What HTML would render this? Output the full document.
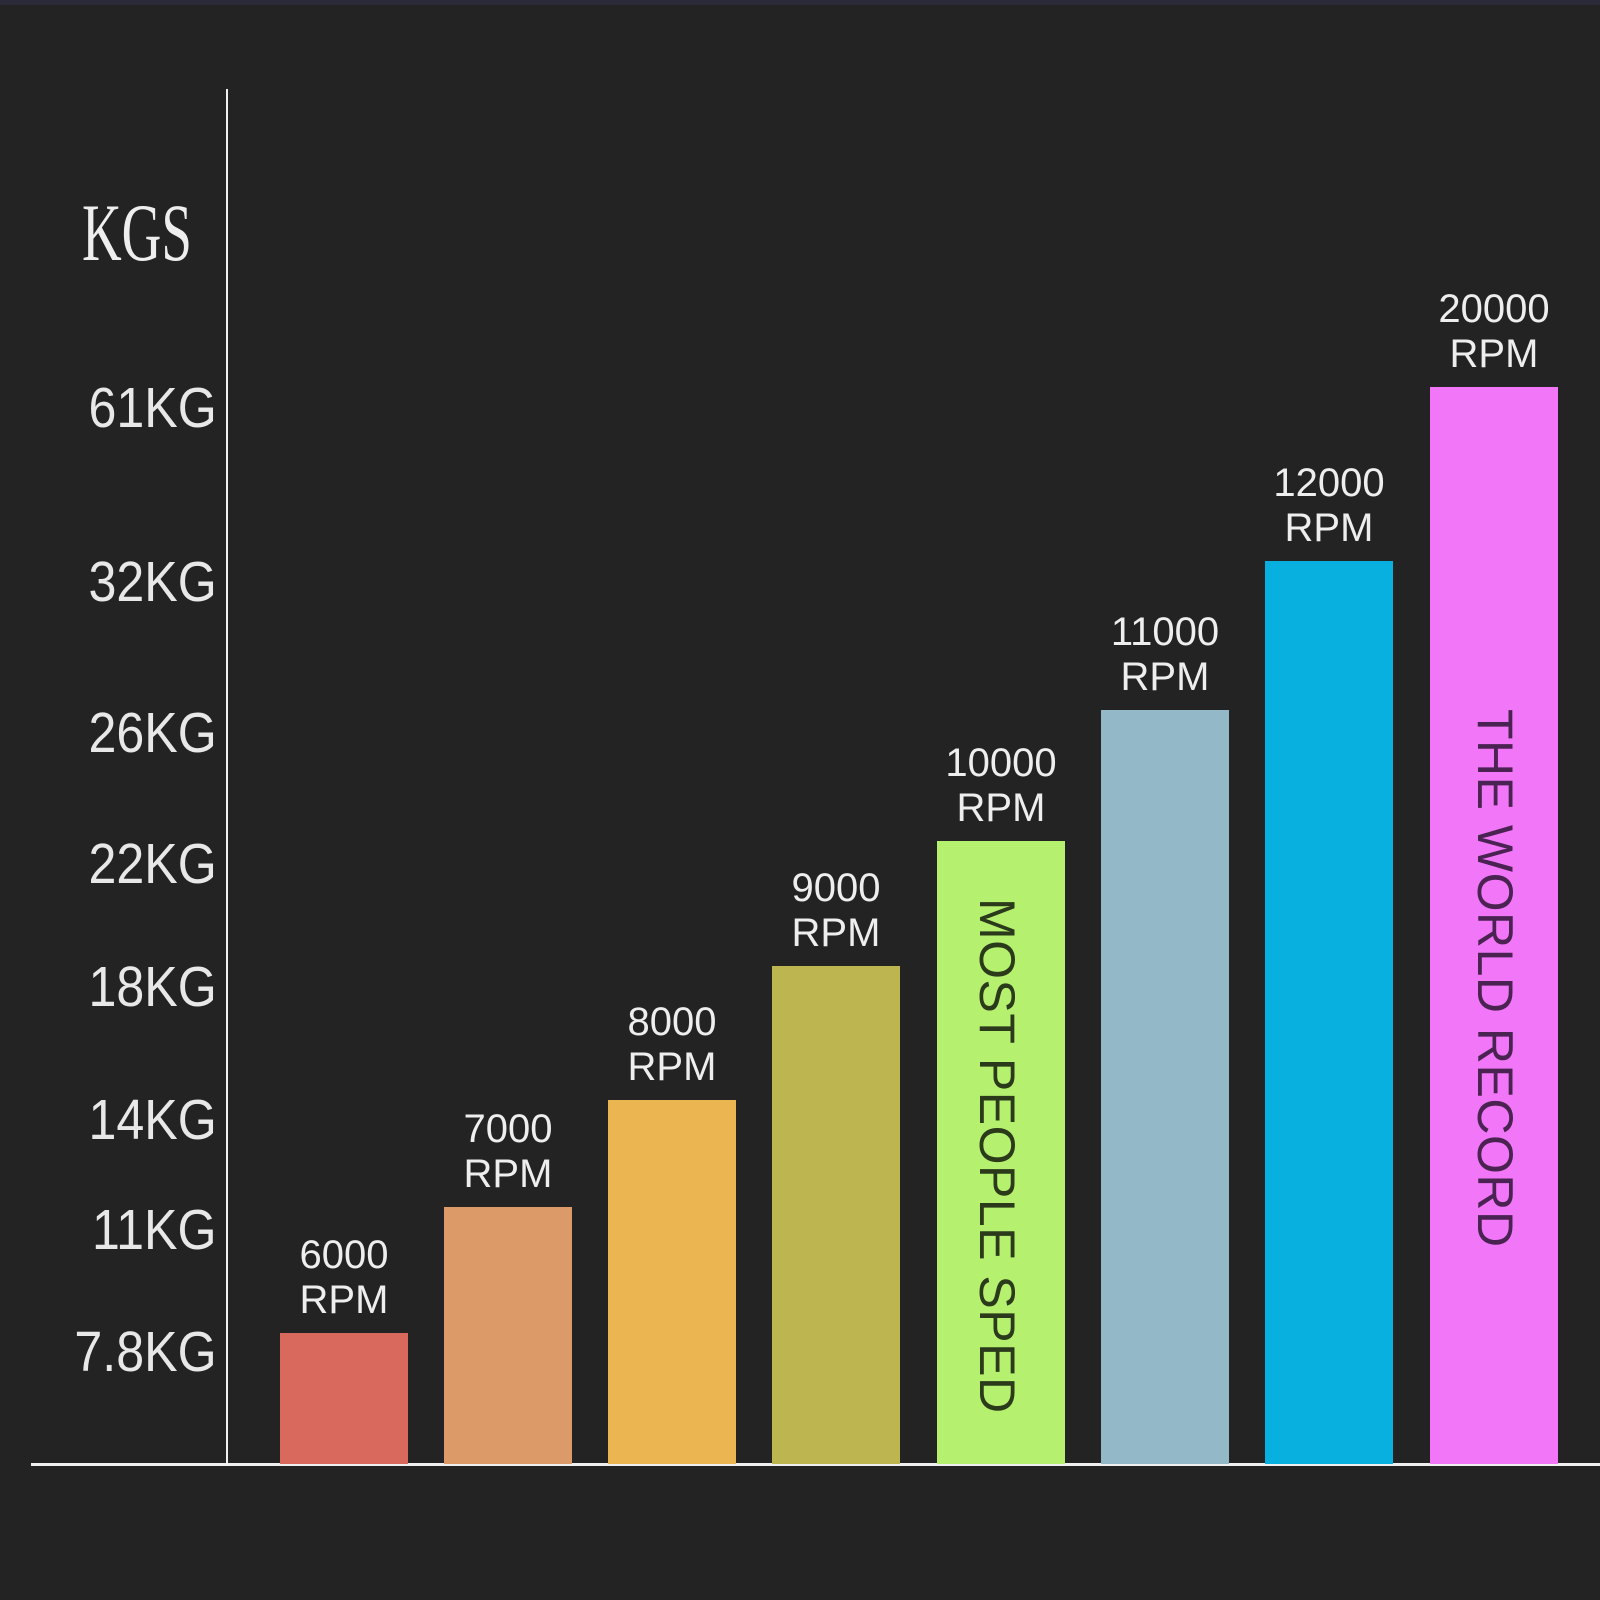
<!DOCTYPE html>
<html><head><style>
body{margin:0;background:#232323;}
#c{position:relative;width:1600px;height:1600px;background:#232323;overflow:hidden;font-family:"Liberation Sans",sans-serif;}
.bar{position:absolute;width:128px;bottom:136px;}
.lab{position:absolute;width:200px;text-align:center;color:#eee;font-size:40px;line-height:45px;}
.tick{position:absolute;right:1383px;color:#e8e8e8;font-size:57px;line-height:57px;transform:scaleX(0.88);transform-origin:right center;white-space:nowrap;}
.vt{position:absolute;font-size:50px;letter-spacing:0.5px;white-space:nowrap;transform-origin:left top;transform:rotate(90deg);}
</style></head><body><div id="c">
<div style="position:absolute;left:0;top:0;width:1600px;height:5px;background:#2b2a38"></div>
<div style="position:absolute;left:226px;top:89px;width:2px;height:1376px;background:#f0f0f0"></div>
<div style="position:absolute;left:31px;top:1463px;width:1569px;height:3px;background:#f0f0f0"></div>
<div style="position:absolute;left:82px;top:192px;font-family:'Liberation Serif',serif;font-size:82px;color:#eee;transform:scaleX(0.67);transform-origin:left top;line-height:82px">KGS</div>
<div class="tick" style="top:380px">61KG</div>
<div class="tick" style="top:554px">32KG</div>
<div class="tick" style="top:705px">26KG</div>
<div class="tick" style="top:836px">22KG</div>
<div class="tick" style="top:959px">18KG</div>
<div class="tick" style="top:1092px">14KG</div>
<div class="tick" style="top:1202px">11KG</div>
<div class="tick" style="top:1324px">7.8KG</div>

<div class="bar" style="left:280px;top:1333px;background:#d9695d"></div>
<div class="bar" style="left:444px;top:1207px;background:#dd9a69"></div>
<div class="bar" style="left:608px;top:1100px;background:#ebb551"></div>
<div class="bar" style="left:772px;top:966px;background:#bcb550"></div>
<div class="bar" style="left:937px;top:841px;background:#b5f06f"></div>
<div class="bar" style="left:1101px;top:710px;background:#93b8c8"></div>
<div class="bar" style="left:1265px;top:561px;background:#08b0e0"></div>
<div class="bar" style="left:1430px;top:387px;background:#f277f8"></div>

<div class="lab" style="left:244px;top:1233px">6000<br>RPM</div>
<div class="lab" style="left:408px;top:1107px">7000<br>RPM</div>
<div class="lab" style="left:572px;top:1000px">8000<br>RPM</div>
<div class="lab" style="left:736px;top:866px">9000<br>RPM</div>
<div class="lab" style="left:901px;top:741px">10000<br>RPM</div>
<div class="lab" style="left:1065px;top:610px">11000<br>RPM</div>
<div class="lab" style="left:1229px;top:461px">12000<br>RPM</div>
<div class="lab" style="left:1394px;top:287px">20000<br>RPM</div>

<div class="vt" style="left:1026px;top:898px;color:#2a3a1a">MOST PEOPLE SPED</div>
<div class="vt" style="left:1524px;top:709px;color:#4a2352">THE WORLD RECORD</div>
</div></body></html>
